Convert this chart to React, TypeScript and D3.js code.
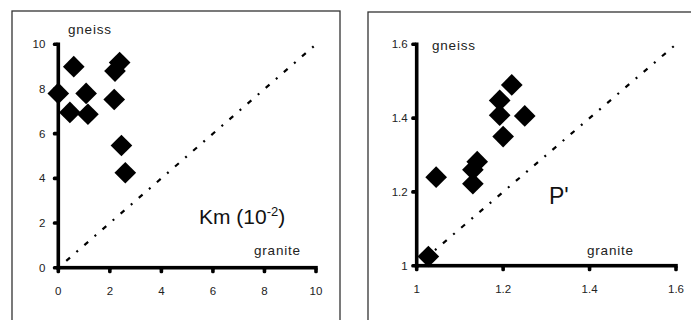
import { useEffect, useRef } from "react";
import * as d3 from "d3";

// Km (10^-2): granite (x) vs gneiss (y)
const kmGranite = [0, 0.6, 0.45, 1.08, 1.15, 2.17, 2.2, 2.38, 2.45, 2.6];
const kmGneiss = [7.8, 9.0, 6.95, 7.8, 6.87, 7.53, 8.8, 9.18, 5.47, 4.25];
const kmTicks = [0, 2, 4, 6, 8, 10];

// P': granite (x) vs gneiss (y)
const pGranite = [1.027, 1.045, 1.13, 1.13, 1.14, 1.2, 1.192, 1.192, 1.22, 1.25];
const pGneiss = [1.025, 1.24, 1.222, 1.26, 1.282, 1.35, 1.408, 1.448, 1.49, 1.406];
const pTicks = [1, 1.2, 1.4, 1.6];

const FONT = "'Liberation Sans', Arial, sans-serif";
const AXW = 3.6; // axis thickness

export default function App() {
  const ref = useRef<SVGSVGElement>(null);

  useEffect(() => {
    const svg = d3.select(ref.current);
    svg.selectAll("*").remove();

    function panel(opts: any) {
      const { box, xs, ys, xd, yd, ticks, xv, yv, fmt, yPad, title, titleSize, titlePos, gneissPos, granitePos } = opts;
      const g = svg.append("g");

      g.append("rect")
        .attr("x", box[0]).attr("y", box[1])
        .attr("width", box[2]).attr("height", box[3])
        .attr("fill", "none").attr("stroke", "#333").attr("stroke-width", 1.3);

      const x = d3.scaleLinear(xd, xs);
      const y = d3.scaleLinear(yd, ys);
      const x0 = x(xd[0]);
      const y0 = y(yd[0]);
      const x1 = x(xd[1]);
      const y1 = y(yd[1]);

      // diagonal 1:1 line
      g.append("line")
        .attr("x1", x0).attr("y1", y0)
        .attr("x2", x1).attr("y2", y1)
        .attr("stroke", "#000").attr("stroke-width", 2.2)
        .attr("stroke-dasharray", "2 8.5 5 8.5");

      // axes as filled bars
      g.append("rect")
        .attr("x", x0 - AXW / 2).attr("y", y0 - AXW / 2)
        .attr("width", x1 - x0 + AXW).attr("height", AXW).attr("fill", "#000");
      g.append("rect")
        .attr("x", x0 - AXW / 2).attr("y", y1 - AXW / 2)
        .attr("width", AXW).attr("height", y0 - y1 + AXW).attr("fill", "#000");

      g.selectAll(".xt").data(ticks).join("rect")
        .attr("x", (d: number) => x(d) - 1.8).attr("y", y0)
        .attr("width", 3.6).attr("height", 5.5).attr("rx", 1.5).attr("fill", "#000");
      g.selectAll(".yt").data(ticks).join("rect")
        .attr("y", (d: number) => y(d) - 1.8).attr("x", x0 - 5.5)
        .attr("height", 3.6).attr("width", 5.5).attr("rx", 1.5).attr("fill", "#000");

      g.selectAll(".xl").data(ticks).join("text")
        .attr("x", (d: number) => x(d)).attr("y", y0 + 27)
        .attr("text-anchor", "middle")
        .attr("font-family", FONT).attr("font-size", 11.5).attr("fill", "#222")
        .text(fmt);
      g.selectAll(".yl").data(ticks).join("text")
        .attr("x", x0 - yPad).attr("y", (d: number) => y(d)).attr("dy", "0.35em")
        .attr("text-anchor", "end")
        .attr("font-family", FONT).attr("font-size", 11.5).attr("fill", "#222")
        .text(fmt);

      const sym = d3.symbol(d3.symbolSquare, 235)();
      g.append("g")
        .selectAll("path")
        .data(xv.map((v: number, i: number) => [v, yv[i]]))
        .join("path")
        .attr("d", sym)
        .attr("fill", "#000")
        .attr("transform", (d: number[]) => `translate(${x(d[0])},${y(d[1])}) rotate(45)`);

      g.append("text")
        .attr("x", gneissPos[0]).attr("y", gneissPos[1])
        .attr("font-family", FONT).attr("font-size", 13.5).attr("letter-spacing", 0.8)
        .attr("fill", "#222").text("gneiss");
      g.append("text")
        .attr("x", granitePos[0]).attr("y", granitePos[1])
        .attr("font-family", FONT).attr("font-size", 13.5).attr("letter-spacing", 0.8)
        .attr("fill", "#222").text("granite");

      const t = g.append("text")
        .attr("x", titlePos[0]).attr("y", titlePos[1])
        .attr("font-family", FONT).attr("font-size", titleSize).attr("fill", "#111");
      title(t);
    }

    panel({
      box: [12, 11, 328, 330],
      xs: [58.3, 316], ys: [267.7, 44.3],
      xd: [0, 10], yd: [0, 10],
      ticks: kmTicks, xv: kmGranite, yv: kmGneiss,
      fmt: d3.format("d"), yPad: 13,
      titleSize: 21, titlePos: [199, 224],
      title: (t: any) => {
        t.append("tspan").text("Km (10");
        t.append("tspan").attr("font-size", 13).attr("dy", -8).text("-2");
        t.append("tspan").attr("dy", 8).text(")");
      },
      gneissPos: [68, 34], granitePos: [254, 255],
    });

    panel({
      box: [368, 12, 340, 330],
      xs: [416.7, 676], ys: [265.7, 44.3],
      xd: [1, 1.6], yd: [1, 1.6],
      ticks: pTicks, xv: pGranite, yv: pGneiss,
      fmt: (d: number) => String(d), yPad: 9,
      titleSize: 23, titlePos: [549, 204],
      title: (t: any) => t.text("P'"),
      gneissPos: [432, 50], granitePos: [587, 255],
    });
  }, []);

  return (
    <svg
      ref={ref}
      width={691}
      height={320}
      style={{ position: "absolute", left: 0, top: 0, background: "#fff" }}
    />
  );
}
